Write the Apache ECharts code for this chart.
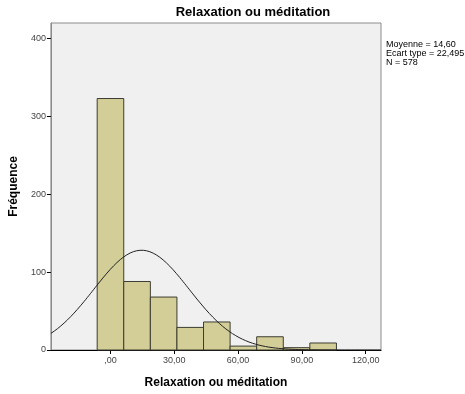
<!DOCTYPE html>
<html><head><meta charset="utf-8">
<script src="https://cdn.jsdelivr.net/npm/echarts@6/dist/echarts.min.js"></script>
<style>html,body{margin:0;padding:0;background:#fff}#c{width:465px;height:394px}</style>
</head><body><div id="c"></div>
<script>
// Histogram bins (edges) and frequencies
const binEdges = [-6.25, 6.25, 18.75, 31.25, 43.75, 56.25, 68.75, 81.25, 93.75, 106.25];
const counts = [323, 88, 68, 29, 36, 5, 17, 3, 9];
// Summary statistics shown in the figure
const statMean = [14.60];
const statSd = [22.495];
const statN = [578];
const statLabels = ["Moyenne = 14,60", "Ecart type = 22,495", "N = 578"];
// Tick labels
const xTickValues = [0, 30, 60, 90, 120];
const xTickLabels = [",00", "30,00", "60,00", "90,00", "120,00"];
const yTickValues = [0, 100, 200, 300, 400];
const yTickLabels = ["0", "100", "200", "300", "400"];

const xMin = -28, xMax = 127.2;
const binWidth = binEdges[1] - binEdges[0];

const barData = counts.map((c, i) => [binEdges[i], binEdges[i + 1], c]);

// fitted normal curve (N * binWidth * pdf) from the displayed mean / sd
const curve = [];
for (let k = 0; k <= 200; k++) {
  const x = xMin + (xMax - xMin) * k / 200;
  const z = (x - statMean[0]) / statSd[0];
  curve.push([x, statN[0] * binWidth / (statSd[0] * Math.sqrt(2 * Math.PI)) * Math.exp(-0.5 * z * z)]);
}

const chart = echarts.init(document.getElementById('c'), null, {renderer: 'canvas'});
chart.setOption({
  animation: false,
  grid: {left: 49, top: 23, width: 332, height: 331, show: true,
         backgroundColor: '#f0f0f0', borderColor: '#8c8c8c', borderWidth: 1},
  xAxis: {
    type: 'value', min: xMin, max: xMax,
    name: 'Relaxation ou méditation', nameLocation: 'middle', nameGap: 27,
    nameTextStyle: {fontFamily: 'Arial, Liberation Sans', fontSize: 12, fontWeight: 'bold', color: '#000'},
    splitLine: {show: false},
    axisLine: {show: true, onZero: false, lineStyle: {color: '#000', width: 1}},
    axisTick: {show: true, customValues: xTickValues, length: 4, lineStyle: {color: '#000'}},
    axisLabel: {customValues: xTickValues, fontFamily: 'Arial, Liberation Sans', fontSize: 9, color: '#444', margin: 6,
      formatter: v => xTickLabels[xTickValues.indexOf(v)]}
  },
  yAxis: {
    type: 'value', min: 0, max: 420,
    name: 'Fréquence', nameLocation: 'middle', nameGap: 23, nameRotate: 90,
    nameTextStyle: {fontFamily: 'Arial, Liberation Sans', fontSize: 12, fontWeight: 'bold', color: '#000'},
    splitLine: {show: false},
    axisLine: {show: true, onZero: false, lineStyle: {color: '#8c8c8c', width: 1}},
    axisTick: {show: true, customValues: yTickValues, length: 4, lineStyle: {color: '#000'}},
    axisLabel: {customValues: yTickValues, fontFamily: 'Arial, Liberation Sans', fontSize: 9, color: '#444', margin: 5,
      formatter: v => yTickLabels[yTickValues.indexOf(v)]}
  },
  graphic: [{
    type: 'text', x: 253, y: 12,
    style: {text: 'Relaxation ou méditation', font: 'bold 13px Arial, Liberation Sans', fill: '#000',
            align: 'center', verticalAlign: 'middle'}
  }, {
    type: 'text', left: 386, top: 40,
    style: {text: statLabels.join('\n'), font: '9px Arial, Liberation Sans', fill: '#000', lineHeight: 9}
  }],
  series: [{
    type: 'custom',
    data: barData,
    encode: {x: [0, 1], y: 2},
    renderItem: (params, api) => {
      const p0 = api.coord([api.value(0), 0]);
      const p1 = api.coord([api.value(1), api.value(2)]);
      return {type: 'rect', shape: {x: p0[0], y: p1[1], width: p1[0] - p0[0], height: p0[1] - p1[1]},
              style: {fill: '#d3ce97', stroke: '#3c3c32', lineWidth: 1}};
    },
    z: 2
  }, {
    type: 'line', data: curve, showSymbol: false, smooth: false,
    lineStyle: {color: '#222', width: 1}, z: 3, clip: true
  }]
});
</script></body></html>
